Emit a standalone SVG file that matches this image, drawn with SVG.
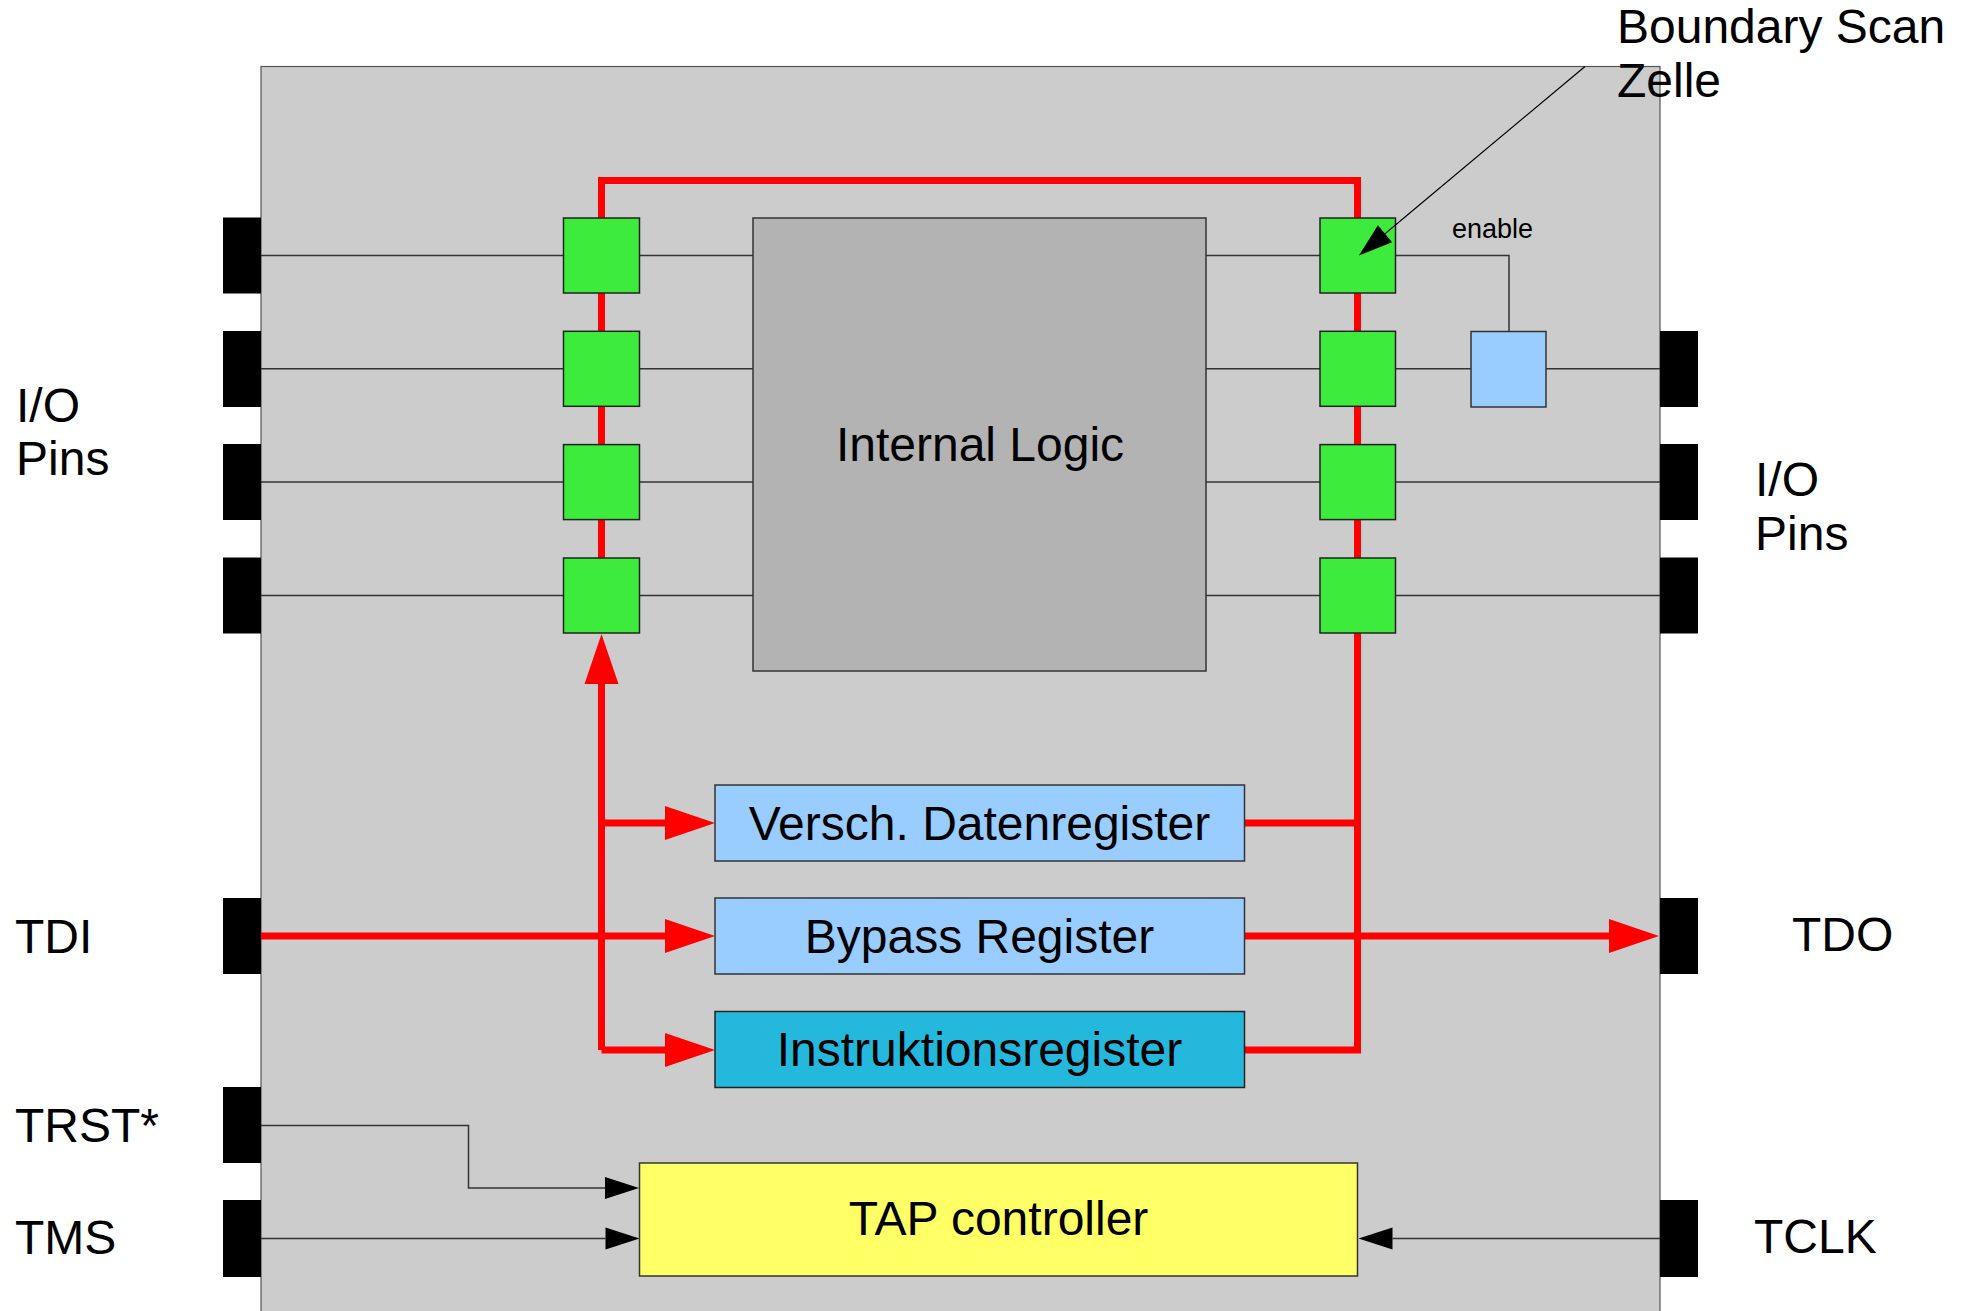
<svg xmlns="http://www.w3.org/2000/svg" width="1969" height="1311" viewBox="0 0 1969 1311">
<style>
  text { font-family: "Liberation Sans", Arial, sans-serif; fill: #000; }
  .big { font-size: 48px; }
  .small { font-size: 27px; }
  .mid { text-anchor: middle; }
  .pin { fill: #000; }
  .cell { fill: #3deb3d; stroke: #222; stroke-width: 1.5; }
  .buf { fill: #99ccff; stroke: #333; stroke-width: 1.5; }
  .reg { fill: #99ccff; stroke: #333; stroke-width: 1.5; }
  .ireg { fill: #23b8dc; stroke: #222; stroke-width: 1.5; }
  .tap { fill: #ffff66; stroke: #333; stroke-width: 1.5; }
  .logic { fill: #b3b3b3; stroke: #333; stroke-width: 1.5; }
  .wire { fill: none; stroke: #333; stroke-width: 1.5; }
  .red { fill: none; stroke: #ff0000; stroke-width: 7; }
</style>
<defs>
  <marker id="ra" markerUnits="userSpaceOnUse" markerWidth="50" markerHeight="34" refX="0" refY="17" orient="auto" overflow="visible">
    <path d="M0,0 L50,17 L0,34 Z" fill="#ff0000"/>
  </marker>
  <marker id="ba" markerUnits="userSpaceOnUse" markerWidth="34" markerHeight="22" refX="0" refY="11" orient="auto" overflow="visible">
    <path d="M0,0 L34,11 L0,22 Z" fill="#000"/>
  </marker>
</defs>

<g id="chip">
  <rect x="261" y="66.5" width="1399" height="1260" fill="#cccccc" stroke="#555" stroke-width="1.2"/>
</g>

<g id="pins">
  <rect class="pin" x="223" y="217.5" width="38" height="76"/>
  <rect class="pin" x="223" y="331" width="38" height="76"/>
  <rect class="pin" x="223" y="444" width="38" height="76"/>
  <rect class="pin" x="223" y="557.5" width="38" height="76"/>
  <rect class="pin" x="1660" y="331" width="38" height="76"/>
  <rect class="pin" x="1660" y="444" width="38" height="76"/>
  <rect class="pin" x="1660" y="557.5" width="38" height="76"/>
  <rect class="pin" x="223" y="898" width="38" height="76"/>
  <rect class="pin" x="223" y="1087" width="38" height="76"/>
  <rect class="pin" x="223" y="1200" width="38" height="77"/>
  <rect class="pin" x="1660" y="898" width="38" height="76"/>
  <rect class="pin" x="1660" y="1200" width="38" height="77"/>
</g>

<g id="connectors">
  <path class="wire" d="M261,255.5 H563 M640,255.5 H753 M1206,255.5 H1320 M1395,255.5 H1509 V331"/>
  <path class="wire" d="M261,368.8 H563 M640,368.8 H753 M1206,368.8 H1320 M1395,368.8 H1471 M1546,368.8 H1660"/>
  <path class="wire" d="M261,482.1 H563 M640,482.1 H753 M1206,482.1 H1320 M1395,482.1 H1660"/>
  <path class="wire" d="M261,595.4 H563 M640,595.4 H753 M1206,595.4 H1320 M1395,595.4 H1660"/>
  <path class="red" d="M601.5,633 V180.5 H1357.5 V1050 H1244"/>
  <path class="red" d="M601.5,1050 V684" marker-end="url(#ra)"/>
  <path class="red" d="M601.5,1050 H665" marker-end="url(#ra)"/>
  <path class="red" d="M601.5,823 H665" marker-end="url(#ra)"/>
  <path class="red" d="M261,936 H665" marker-end="url(#ra)"/>
  <path class="red" d="M1244,823 H1357.5"/>
  <path class="red" d="M1244,936 H1609" marker-end="url(#ra)"/>
  <path class="wire" d="M261,1125.5 H468.5 V1188 H605" marker-end="url(#ba)"/>
  <path class="wire" d="M261,1238.5 H605.5" marker-end="url(#ba)"/>
  <path class="wire" d="M1660,1238.5 H1392.5" marker-end="url(#ba)"/>
</g>

<g id="cells-left">
  <rect class="cell" x="563.5" y="218" width="76" height="75"/>
  <rect class="cell" x="563.5" y="331.3" width="76" height="75"/>
  <rect class="cell" x="563.5" y="444.6" width="76" height="75"/>
  <rect class="cell" x="563.5" y="558" width="76" height="75"/>
</g>
<g id="cells-right">
  <rect class="cell" x="1320" y="218" width="75.5" height="75"/>
  <rect class="cell" x="1320" y="331.3" width="75.5" height="75"/>
  <rect class="cell" x="1320" y="444.6" width="75.5" height="75"/>
  <rect class="cell" x="1320" y="558" width="75.5" height="75"/>
</g>

<g id="internal-logic">
  <rect class="logic" x="753" y="218" width="453" height="453"/>
  <text class="big mid" x="980" y="461">Internal Logic</text>
</g>

<g id="enable-buffer">
  <rect class="buf" x="1471" y="331.5" width="75" height="75.5"/>
  <text class="small" x="1452" y="238">enable</text>
</g>

<g id="versch-datenregister">
  <rect class="reg" x="715" y="785" width="529.5" height="76"/>
  <text class="big mid" x="979.5" y="839.5">Versch. Datenregister</text>
</g>
<g id="bypass-register">
  <rect class="reg" x="715" y="898" width="529.5" height="76"/>
  <text class="big mid" x="979.5" y="952.5">Bypass Register</text>
</g>
<g id="instruktionsregister">
  <rect class="ireg" x="715" y="1011.5" width="529.5" height="76"/>
  <text class="big mid" x="979.5" y="1066">Instruktionsregister</text>
</g>
<g id="tap-controller">
  <rect class="tap" x="639.5" y="1163" width="718" height="113"/>
  <text class="big mid" x="998.5" y="1235">TAP controller</text>
</g>

<g id="callout">
  <path fill="none" stroke="#000" stroke-width="1.2" d="M1585,66.5 L1385,233.7" marker-end="url(#ba)"/>
</g>

<g id="labels">
  <text class="big" x="16" y="421.5">I/O</text>
  <text class="big" x="16" y="475">Pins</text>
  <text class="big" x="1755" y="496">I/O</text>
  <text class="big" x="1755" y="549.5">Pins</text>
  <text class="big" x="15" y="953">TDI</text>
  <text class="big" x="15" y="1142">TRST*</text>
  <text class="big" x="15" y="1254">TMS</text>
  <text class="big" x="1792" y="951">TDO</text>
  <text class="big" x="1754" y="1253">TCLK</text>
  <text class="big" x="1617" y="43">Boundary Scan</text>
  <text class="big" x="1617" y="96.5">Zelle</text>
</g>
</svg>
